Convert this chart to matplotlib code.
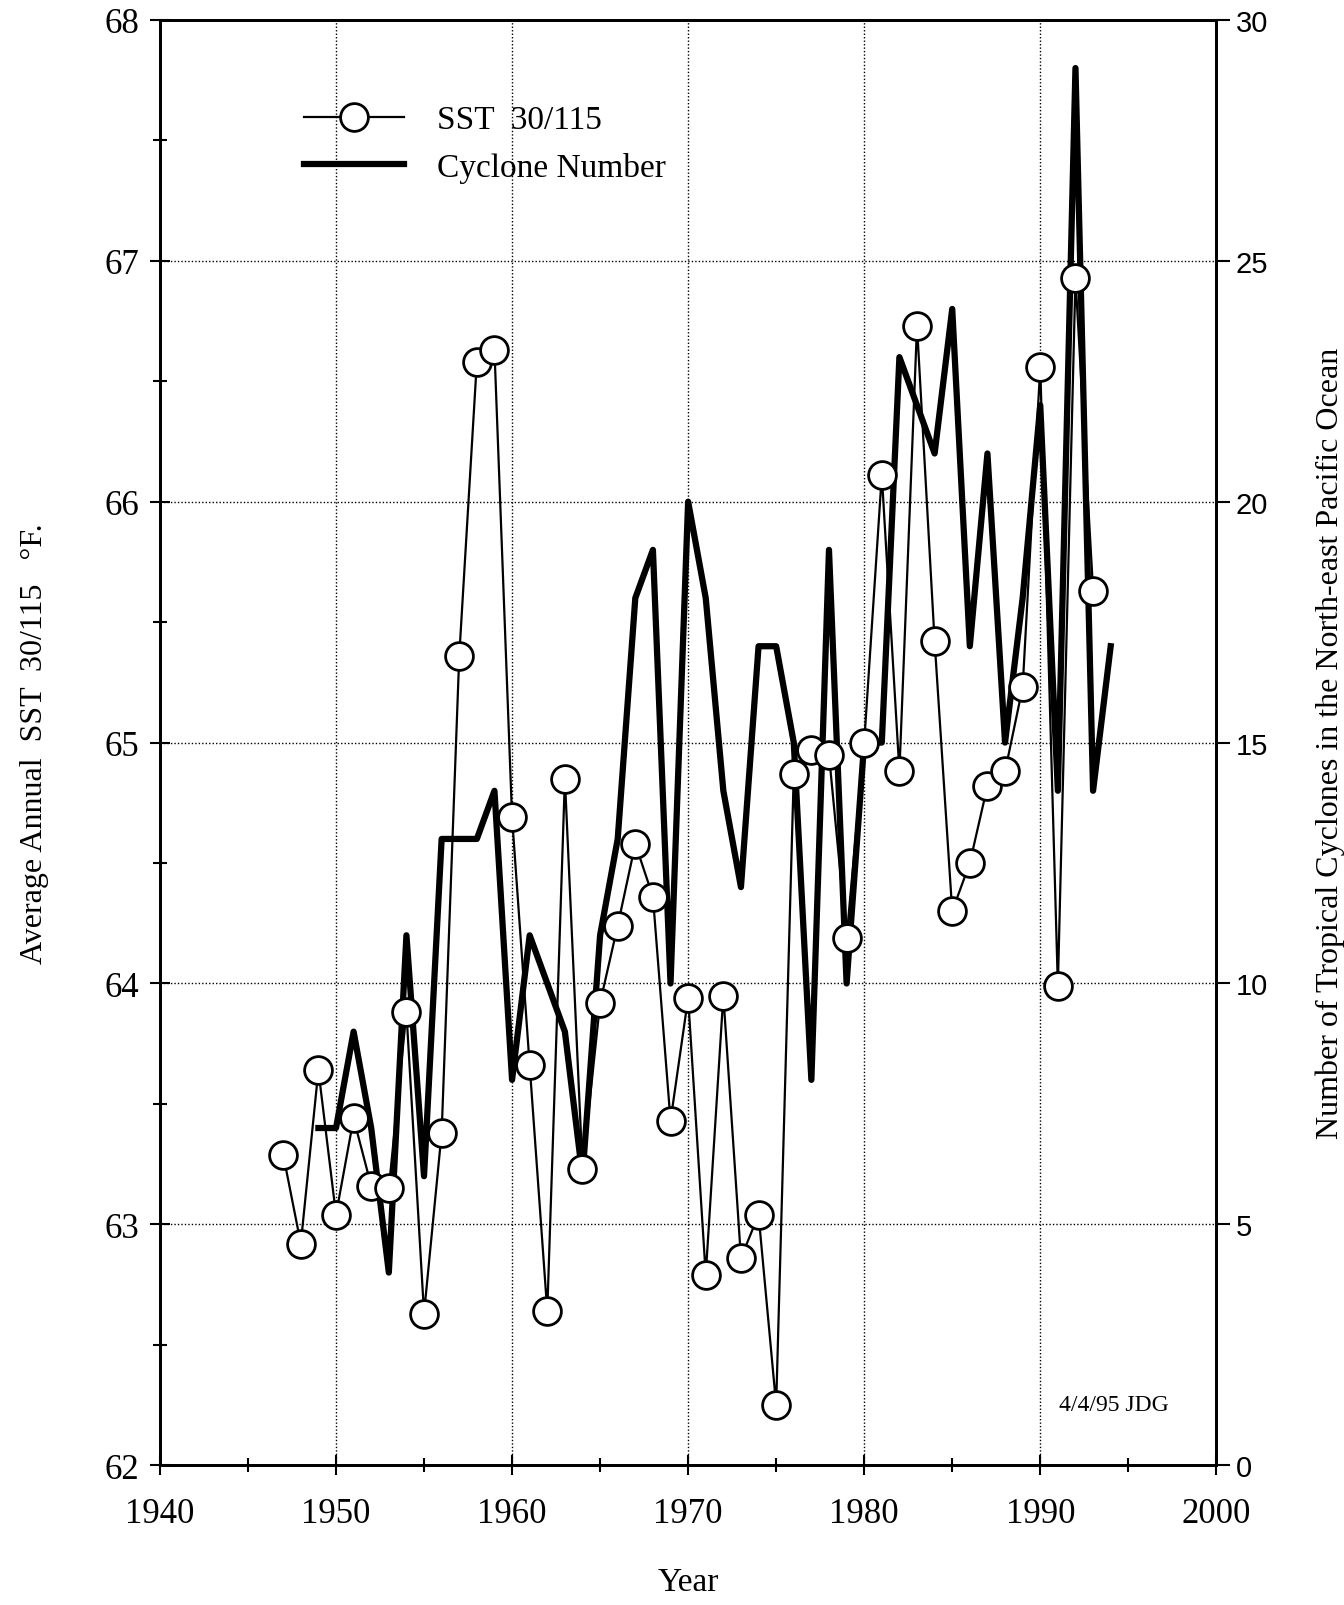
import matplotlib
matplotlib.use("Agg")
import matplotlib.pyplot as plt
from matplotlib.ticker import MultipleLocator

# SST 30/115 (deg F), 1947-1993
sst_years = list(range(1947, 1994))
sst = [63.29, 62.92, 63.64, 63.04, 63.44, 63.16, 63.15, 63.88, 62.63, 63.38,
       65.36, 66.58, 66.63, 64.69, 63.66, 62.64, 64.85, 63.23, 63.92, 64.24,
       64.58, 64.36, 63.43, 63.94, 62.79, 63.95, 62.86, 63.04, 62.25, 64.87,
       64.97, 64.95, 64.19, 65.00, 66.11, 64.88, 66.73, 65.42, 64.30, 64.50,
       64.82, 64.88, 65.23, 66.56, 63.99, 66.93, 65.63]

# tropical cyclones in the north-east Pacific, 1949-1994
cyc_years = list(range(1949, 1995))
cyclones = [7, 7, 9, 7, 4, 11, 6, 13, 13, 13,
            14, 8, 11, 10, 9, 6, 11, 13, 18, 19,
            10, 20, 18, 14, 12, 17, 17, 15, 8, 19,
            10, 15, 15, 23, 22, 21, 24, 17, 21, 15,
            18, 22, 14, 29, 14, 17]

plt.rcParams['font.family'] = ['Liberation Serif', 'DejaVu Serif']

fig = plt.figure(figsize=(13.44, 16.06), dpi=100)
ax = fig.add_axes([0.119, 0.087, 0.786, 0.9])
ax2 = ax.twinx()

ax.plot(sst_years, sst, color="black", lw=1.6, marker="o", ms=20,
        mfc="white", mec="black", mew=2, zorder=3, label="SST  30/115")
ax2.plot(cyc_years, cyclones, color="black", lw=4.5, zorder=2)
# proxy for legend
ax.plot([], [], color="black", lw=4.5, label="Cyclone Number")

ax.set_xlim(1940, 2000)
ax.set_ylim(62, 68)
ax2.set_ylim(0, 30)
ax.set_zorder(ax2.get_zorder() + 1)
ax.patch.set_visible(False)

ax.xaxis.set_major_locator(MultipleLocator(10))
ax.xaxis.set_minor_locator(MultipleLocator(5))
ax.yaxis.set_major_locator(MultipleLocator(1))
ax.yaxis.set_minor_locator(MultipleLocator(0.5))
ax2.yaxis.set_major_locator(MultipleLocator(5))

ax.grid(True, which="major", ls=(0, (1, 1.5)), color="black", lw=1.0)

ax.tick_params(axis="x", which="major", direction="inout", length=14,
               width=1.5, labelsize=25, pad=16)
ax.tick_params(axis="y", which="major", direction="inout", length=14,
               width=1.5, labelsize=25, pad=8)
ax.tick_params(axis="both", which="minor", direction="inout", length=10, width=1.5)
ax2.tick_params(axis="y", which="major", direction="out", length=10,
                width=1.5, labelsize=21, pad=4)
for lab in ax2.get_yticklabels():
    lab.set_family(["Liberation Sans", "DejaVu Sans"])

for a in (ax, ax2):
    for s in a.spines.values():
        s.set_linewidth(2)

ax.set_xlabel("Year", fontsize=24, labelpad=26)
ax.set_ylabel("Average Annual  SST  30/115   °F.", fontsize=23, labelpad=40)
ax2.set_ylabel("Number of Tropical Cyclones in the North-east Pacific Ocean",
               fontsize=23, labelpad=34)

leg = ax.legend(loc="upper left", bbox_to_anchor=(0.108, 0.962), frameon=False,
                fontsize=24, handlelength=3.0, handletextpad=1.0,
                labelspacing=0.5)

ax.text(0.955, 0.035, "4/4/95 JDG", transform=ax.transAxes, fontsize=17,
        ha="right", va="bottom")

fig.savefig("out.png", dpi=100)
